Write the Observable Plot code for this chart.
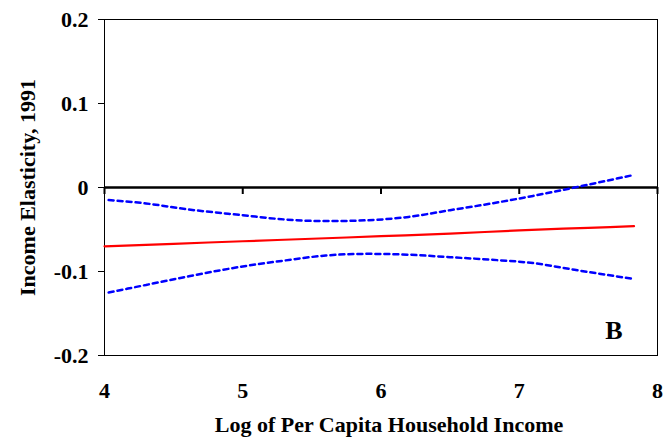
<!DOCTYPE html>
<html>
<head>
<meta charset="utf-8">
<script src="https://cdn.jsdelivr.net/npm/d3@7"></script>
<script src="https://cdn.jsdelivr.net/npm/@observablehq/plot@0.6"></script>
<style>
  html, body { margin: 0; padding: 0; background: white; }
</style>
</head>
<body>
<div id="chart"></div>
<script>
const xTicks = [4, 5, 6, 7, 8];
const yTicks = [-0.2, -0.1, 0, 0.1, 0.2];

// Point estimate (red solid)
const estX = [4.0, 4.5, 5.0, 5.5, 6.0, 6.5, 7.0, 7.5, 7.83];
const estY = [-0.070, -0.067, -0.064, -0.061, -0.058, -0.055, -0.051, -0.048, -0.046];

// Confidence bands (blue dashed)
const bandX = [4.03, 4.3, 4.6, 5.0, 5.3, 5.6, 5.9, 6.2, 6.5, 6.8, 7.1, 7.4, 7.83];
const upperY = [-0.015, -0.019, -0.026, -0.033, -0.038, -0.040, -0.039, -0.035, -0.027, -0.019, -0.010, 0.000, 0.015];
const lowerY = [-0.125, -0.116, -0.106, -0.094, -0.087, -0.081, -0.079, -0.080, -0.083, -0.086, -0.090, -0.098, -0.109];

const panelLabel = ["B"];
const xTitle = ["Log of Per Capita Household Income"];

const est = estX.map((x, i) => ({x, y: estY[i]}));
const upper = bandX.map((x, i) => ({x, y: upperY[i]}));
const lower = bandX.map((x, i) => ({x, y: lowerY[i]}));

const font = "'Liberation Serif', 'Times New Roman', serif";

const chart = Plot.plot({
  width: 670,
  height: 440,
  marginLeft: 104,
  marginRight: 13,
  marginTop: 19,
  marginBottom: 85,
  style: {fontFamily: font, fontWeight: "bold", fontSize: "22px", background: "white", color: "black"},
  x: {domain: [4, 8]},
  y: {domain: [-0.2, 0.2]},
  marks: [
    Plot.frame({stroke: "black", strokeWidth: 1}),
    Plot.ruleY([0], {stroke: "black", strokeWidth: 2.5}),
    Plot.ruleX(xTicks, {x: d => d, y1: 0, y2: 0, insetBottom: -7, stroke: "black", strokeWidth: 2}),
    Plot.axisY(yTicks, {
      tickSize: 6, tickPadding: 10, fontSize: 22,
      tickFormat: d => d === 0 ? "0" : d.toFixed(1),
      label: "Income Elasticity, 1991", labelAnchor: "center", labelArrow: "none", labelOffset: 85
    }),
    Plot.axisX(xTicks, {
      anchor: "bottom", tickSize: 0, tickPadding: 27, fontSize: 22,
      tickFormat: d => String(d),
      label: null
    }),
    Plot.text(xTitle, {frameAnchor: "bottom", dx: 8, dy: 61, fontSize: 22, fontWeight: "bold", lineAnchor: "top"}),
    Plot.line(lower, {x: "x", y: "y", stroke: "#0000ff", strokeWidth: 2.5, strokeDasharray: "5,4", curve: "monotone-x"}),
    Plot.line(upper, {x: "x", y: "y", stroke: "#0000ff", strokeWidth: 2.5, strokeDasharray: "5,4", curve: "monotone-x"}),
    Plot.line(est, {x: "x", y: "y", stroke: "#ff0000", strokeWidth: 2.2, curve: "monotone-x"}),
    Plot.text(panelLabel, {frameAnchor: "bottom-right", dx: -35, dy: -17, fontSize: 26, fontWeight: "bold", textAnchor: "end", lineAnchor: "bottom"})
  ]
});
document.getElementById("chart").appendChild(chart);
</script>
</body>
</html>
